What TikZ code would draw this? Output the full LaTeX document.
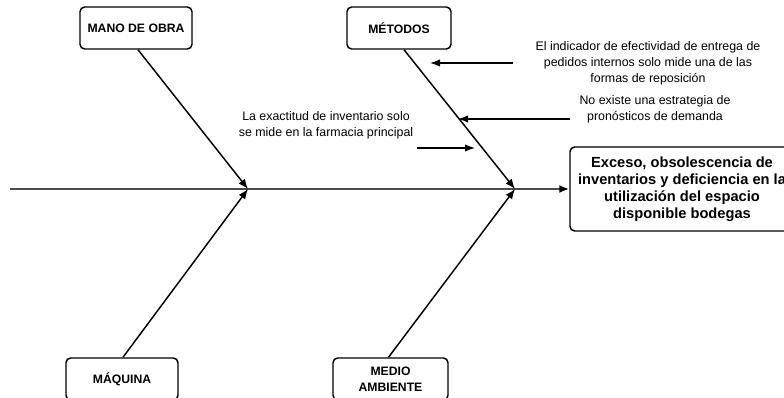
\documentclass[tikz,border=0pt]{standalone}
\usepackage{fontspec}
\setmainfont{Liberation Sans}
\usetikzlibrary{arrows.meta,calc}
\tikzset{
  catbox/.style={draw=black, line width=1.1pt, rounded corners=3.5pt, fill=white,
    align=center, inner sep=0pt, font=\fontsize{9.15}{12}\selectfont\bfseries},
  effectbox/.style={draw=black, line width=1.1pt, rounded corners=3.5pt, fill=white,
    align=center, inner sep=0pt, font=\fontsize{11}{12.75}\selectfont\bfseries},
  note/.style={align=center, inner sep=0pt, font=\fontsize{9.3}{12}\selectfont},
  bone/.style={line width=1.1pt, -{Latex[length=7.5pt,width=6pt]}},
  spine/.style={line width=1.6pt, draw=black!70, -{Latex[length=7.5pt,width=6pt,color=black]}},
  pointer/.style={line width=0.9pt, -{Latex[length=7.5pt,width=5.5pt]}}
}
\begin{document}
\begin{tikzpicture}[x=0.75pt,y=-0.75pt]
  \useasboundingbox (0,0) rectangle (784,398);
  \clip (0,0) rectangle (784,398);

  % category boxes
  \node[catbox, minimum width=84pt, minimum height=31.5pt] (mo) at (136,28) {MANO DE OBRA};
  \node[catbox, minimum width=78pt, minimum height=31.5pt] (met) at (399,28) {MÉTODOS};
  \node[catbox, minimum width=84pt, minimum height=31.5pt] (maq) at (122,379) {MÁQUINA};
  \node[catbox, minimum width=86.25pt, minimum height=31.5pt] (med) at (390.5,379) {MEDIO\\AMBIENTE};

  % effect box
  \node[effectbox, minimum width=168pt, minimum height=63pt] (eff) at (682,189)
    {Exceso, obsolescencia de\\inventarios y deficiencia en la\\utilización del espacio\\disponible bodegas};

  % spine and its junctions
  \coordinate (tail) at (10,189);
  \coordinate (j1) at (248,189);
  \coordinate (j2) at (515,189);
  \draw[spine] (tail) -- (eff.west);

  % bones
  \draw[bone] ($(mo.south)+(2,0)$) -- (j1);
  \draw[bone] ($(maq.north)+(1,0)$) -- (j1);
  \draw[bone] ($(met.south)+(5,0)$) -- (j2);
  \draw[bone] ($(med.north)+(-2,0)$) -- (j2);

  % causes
  \node[note] (c1) at (648,63) {El indicador de efectividad de entrega de\\pedidos internos solo mide una de las\\formas de reposición};
  \node[note] (c2) at (655,109) {No existe una estrategia de\\pronósticos de demanda};
  \node[note] (c3) at (326,125) {La exactitud de inventario solo\\se mide en la farmacia principal};

  \coordinate (p1s) at (513,63);
  \coordinate (p1e) at (430,63);
  \coordinate (p2s) at (570,119);
  \coordinate (p2e) at (458,119);
  \coordinate (p3s) at (417,148);
  \coordinate (p3e) at (475,148);
  \draw[pointer] (p1s) -- (p1e);
  \draw[pointer] (p2s) -- (p2e);
  \draw[pointer] (p3s) -- (p3e);
\end{tikzpicture}
\end{document}
